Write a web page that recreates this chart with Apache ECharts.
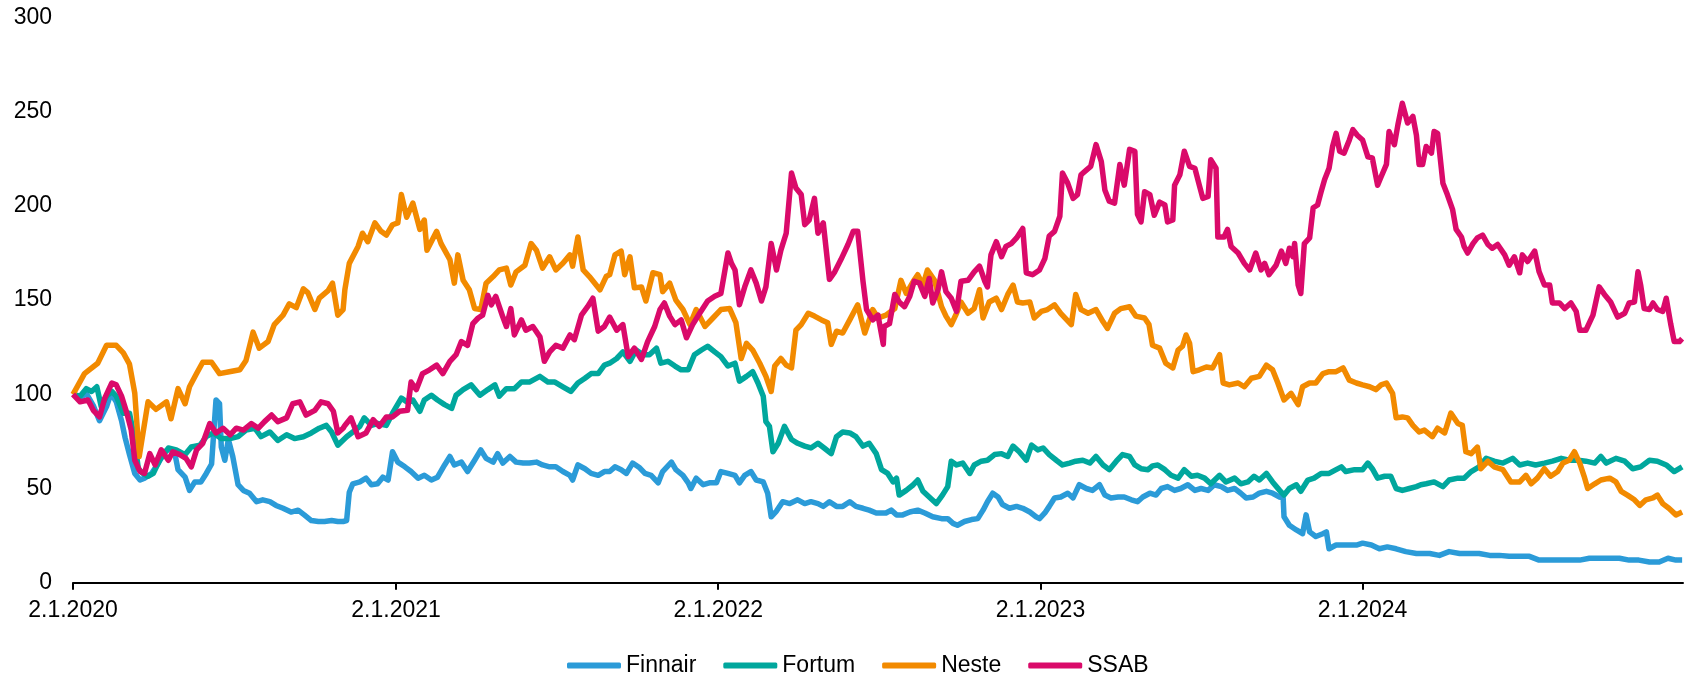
<!DOCTYPE html>
<html>
<head>
<meta charset="utf-8">
<script src="https://cdn.jsdelivr.net/npm/echarts@6.0.0/dist/echarts.min.js"></script>
<style>
  body { margin: 0; background: #fff; }
  #main { width: 1687px; height: 675px; }
</style>
</head>
<body>
<div id="main"></div>
<script>
// x = trading day offset in calendar days from 2.1.2020, y = index (2.1.2020 = 100)
var tickDays = [0, 366, 731, 1096, 1461];
var tickLabels = ['2.1.2020', '2.1.2021', '2.1.2022', '2.1.2023', '2.1.2024'];
var names = ['Finnair', 'Fortum', 'Neste', 'SSAB'];
var colors = ['#2B9BD8', '#00A79D', '#F28A00', '#DA0A6A'];

var finnair = [
  [0,100],[8,98],[15,100.5],[23,94],[30,86],[38,93.5],[43,100.5],[49,96],[55,86],[59,77],[64,68],[70,58],[76,54.5],[81,55.5],
  [89,58],[96,63],[104,69.5],[110,71],[115,69.5],[119,60],[127,56],[132,49],[138,53.5],[145,53.5],[151,58],[157,63],[162,97],
  [166,95],[168,72],[172,65],[176,76],[181,67],[187,52],[193,49],[200,47.5],[208,43],[215,44],[223,43],[230,41],[238,39.5],
  [247,37.5],[255,38.5],[262,36],[270,33],[278,32.5],[285,32.5],[293,33],[300,32.5],[306,32.5],[310,33],[313,48],[317,52.5],
  [325,53.5],[332,55.5],[338,52],[345,52.5],[351,56],[357,54.5],[362,69.5],[368,64],[376,61.5],[383,59],[391,55.5],[398,57],
  [406,54.5],[413,56],[421,62.5],[427,67],[432,62.5],[440,64],[447,59],[455,65],[462,70.5],[468,66],[476,64],[481,68.5],
  [487,63.5],[495,67],[502,64],[510,63.5],[517,63.5],[525,64],[532,62.5],[540,61.5],[547,61.5],[555,59],[563,57],[566,54.5],
  [572,62.5],[580,60.5],[587,58],[595,57],[602,59],[608,59],[614,61.5],[621,60],[627,58],[634,63.5],[642,61],[648,58],[655,57],
  [663,53],[668,59],[678,64],[683,60],[691,57],[697,53],[700,50],[706,55.5],[714,52],[721,53],[729,53],[734,59],[742,58],
  [750,57],[755,53],[761,57],[768,59],[774,54.5],[782,53.5],[787,47.5],[791,35],[797,38],[804,43],[812,42],[821,44],[829,42],
  [836,43],[844,42],[850,40.5],[857,43],[865,40.5],[872,40.5],[880,43],[887,40.5],[895,39.5],[902,38.5],[910,37],[917,37],
  [921,37],[927,38.5],[933,36],[940,36],[948,37.5],[957,38.5],[965,37],[974,35],[984,34],[991,34],[997,31.5],[1002,30.5],
  [1010,32.5],[1018,33.5],[1025,34],[1031,38.5],[1036,43],[1042,47.5],[1048,45.5],[1053,41.5],[1061,39.5],[1069,40.5],
  [1076,39.5],[1084,37.5],[1091,35],[1095,34],[1101,37],[1106,40.5],[1112,45],[1119,45.5],[1127,47.5],[1133,45],[1140,52],
  [1148,50],[1155,49],[1163,52],[1169,46.5],[1176,45],[1184,45.5],[1191,45.5],[1199,44],[1206,43],[1212,45.5],[1220,47.5],
  [1227,46.5],[1233,50],[1240,51],[1248,49],[1255,50],[1263,52],[1271,49],[1278,50],[1286,49],[1293,52],[1301,51],[1308,49],
  [1316,50],[1323,47.5],[1329,45],[1337,45.5],[1344,47.5],[1352,48.5],[1359,47.5],[1367,45.5],[1371,45],[1372,35],[1378,30.5],
  [1386,28],[1393,26],[1397,36],[1401,27],[1408,24.5],[1416,26],[1420,27],[1423,18],[1431,20],[1442,20],[1454,20],[1461,21],
  [1471,20],[1480,18],[1489,19],[1499,18],[1510,16.5],[1522,15.5],[1537,15.5],[1548,14.5],[1559,16.5],[1571,15.5],[1582,15.5],
  [1593,15.5],[1605,14.5],[1616,14.5],[1627,14],[1639,14],[1650,14],[1661,12],[1673,12],[1684,12],[1695,12],[1707,12],
  [1718,13],[1729,13],[1741,13],[1752,13],[1763,12],[1774,12],[1786,11],[1797,11],[1807,13],[1816,12],[1823,12]
];

var fortum = [
  [0,100],[8,99],[15,103],[21,101.5],[27,104],[32,93.5],[38,99],[44,101.5],[49,99],[57,90],[64,90],[70,75.5],[74,60.5],[79,58],
  [85,56.5],[91,58],[98,65],[108,71.5],[117,70.5],[127,68],[134,72],[144,73],[151,77.5],[159,79.5],[168,76.5],[178,76.5],
  [187,77.5],[196,81],[206,82],[213,77.5],[223,80],[232,75.5],[242,78.5],[251,76.5],[261,77.5],[270,79.5],[279,82],[287,83.5],
  [293,80],[300,73],[310,77.5],[317,80],[325,83],[330,87.5],[338,83.5],[345,84.5],[355,83.5],[362,90],[372,98],[378,96],
  [385,97],[393,91],[398,97],[406,99.5],[413,97],[421,94.5],[429,92.5],[434,99.5],[442,102.5],[451,105],[461,99.5],[470,102.5],
  [478,105],[483,99],[491,103],[500,103],[508,106.5],[517,106.5],[529,109.5],[538,106.5],[546,106.5],[555,104],[564,101.5],
  [572,106],[580,108.5],[587,111],[595,111],[602,115.5],[608,116.5],[616,119],[623,122.5],[631,117.5],[638,123.5],[646,121],
  [653,121],[661,124.5],[666,116.5],[674,117.5],[682,115],[689,113],[697,113],[704,121],[712,123.5],[719,125.5],[727,122.5],
  [734,120],[742,115],[750,116.5],[755,107],[763,109.5],[770,112],[776,106],[782,99],[785,85.5],[789,83],[793,69.5],[799,74],
  [806,83],[814,76],[821,74],[829,72.5],[836,71.5],[844,74],[851,71.5],[859,68.5],[865,77.5],[872,80],[880,79.5],[887,77.5],
  [895,72.5],[902,74],[910,68.5],[916,60],[923,58],[929,53.5],[933,55.5],[936,46.5],[944,49],[952,52],[957,54.5],[963,48.5],
  [970,45.5],[978,42],[985,46.5],[991,51],[995,64.5],[1001,62.5],[1008,63.5],[1016,58],[1021,62.5],[1029,64.5],[1036,65],
  [1044,68],[1052,68.5],[1059,67],[1065,72.5],[1072,69.5],[1080,65],[1086,73],[1093,70.5],[1099,71.5],[1106,68],[1114,65],
  [1121,62.5],[1129,63.5],[1136,64.5],[1144,65],[1152,63.5],[1159,67],[1167,62.5],[1174,60],[1182,64.5],[1189,68],[1197,67],
  [1203,62.5],[1210,60.5],[1218,60],[1223,62],[1229,62.5],[1237,60],[1244,57],[1252,55.5],[1259,60],[1267,56.5],[1274,57],
  [1282,55.5],[1289,52.5],[1299,57],[1306,53.5],[1316,55.5],[1323,52.5],[1331,53.5],[1338,56.5],[1344,54.5],[1352,58],
  [1359,53.5],[1367,49],[1372,46.5],[1378,50],[1386,52],[1391,48.5],[1399,54.5],[1406,55.5],[1414,58],[1423,58],[1431,60],
  [1437,61.5],[1442,59],[1452,60],[1461,60],[1467,63.5],[1472,60.5],[1478,55.5],[1486,56.5],[1493,56.5],[1499,50],[1506,49],
  [1514,50],[1522,51],[1527,52],[1533,52.5],[1542,53.5],[1552,51],[1559,54.5],[1569,55.5],[1576,55.5],[1584,59],[1593,61.5],
  [1601,66],[1610,64.5],[1620,63.5],[1631,66],[1639,62.5],[1648,63.5],[1657,62.5],[1667,63.5],[1676,64.5],[1686,66],[1695,65],
  [1705,65],[1714,64.5],[1724,63.5],[1731,67],[1737,63.5],[1748,66],[1758,64.5],[1767,60.5],[1776,61.5],[1786,65],[1795,64.5],
  [1805,62.5],[1814,59],[1823,61.5]
];

var neste = [
  [0,100],[13,111],[28,116.5],[38,126],[49,126],[57,122],[64,116],[70,100.5],[75,67],[85,96],[94,92],[106,96],[111,87],[119,103],
  [127,95],[132,104],[140,111],[147,117],[157,117],[166,111],[177,112],[189,113],[196,118],[204,133],[211,124.5],[221,128],
  [228,137],[238,142],[245,148],[253,146],[261,156],[266,154],[274,145],[279,151],[289,155],[294,159],[300,142],[306,145],
  [308,155.5],[313,169.5],[323,178.5],[328,185.5],[334,181],[342,191],[349,186.5],[355,184.5],[362,190],[368,191],[372,206],
  [378,194],[385,201.5],[393,187.5],[398,192.5],[401,176.5],[412,186.5],[417,180],[427,171.5],[432,159],[436,174],[442,160.5],
  [449,155.5],[455,145.5],[462,145],[468,159],[476,162.5],[483,166],[491,167],[496,158],[502,165],[512,168.5],[519,180],
  [525,176.5],[532,167],[540,173],[547,166],[555,169.5],[563,174],[566,168],[572,183.5],[578,166],[585,162.5],[597,155.5],
  [604,162.5],[608,163.5],[614,174],[621,176],[625,163.5],[631,173],[636,156.5],[644,157],[649,149.5],[657,164.5],[665,163.5],
  [668,154.5],[676,159],[683,150],[691,145],[699,137],[706,145],[716,136],[725,140.5],[734,145],[744,145.5],[751,138],[757,119],
  [763,127],[770,123.5],[778,116.5],[785,109.5],[791,101.5],[795,115],[802,119],[808,115.5],[814,114],[819,134],[825,137],
  [833,143],[840,141.5],[848,139.5],[855,138],[859,126.5],[865,133.5],[872,132.5],[880,139.5],[889,147.5],[897,132.5],[906,145],
  [912,140.5],[918,141.5],[921,142],[931,145.5],[938,160.5],[944,153.5],[952,160],[957,163.5],[963,158],[968,166],[976,160.5],
  [984,146.5],[989,141.5],[995,137],[1001,143],[1006,149],[1014,143],[1021,145.5],[1027,155.5],[1031,140.5],[1038,149],
  [1046,151],[1052,145],[1059,153],[1065,158],[1070,149],[1076,148.5],[1084,149],[1089,140.5],[1097,144],[1104,145],
  [1112,147.5],[1119,143],[1131,137],[1136,153],[1142,145],[1150,143],[1159,145],[1167,138.5],[1172,135],[1180,143],
  [1187,145.5],[1197,146.5],[1204,141.5],[1214,140.5],[1219,137],[1223,126],[1231,124.5],[1238,116.5],[1246,114],[1252,123.5],
  [1257,125.5],[1261,131.5],[1265,127],[1269,112],[1276,113],[1284,114.5],[1291,114],[1299,121],[1303,106],[1310,105],
  [1320,106],[1327,104],[1335,108.5],[1344,109.5],[1352,115.5],[1359,113],[1365,106],[1372,97],[1380,100.5],[1388,94.5],
  [1393,104],[1401,106],[1408,106],[1416,111],[1423,112],[1431,112],[1439,114],[1446,107.5],[1454,106],[1461,105],[1469,104],
  [1476,102.5],[1482,105],[1488,106],[1495,100.5],[1499,87.5],[1506,88],[1512,87.5],[1518,83.5],[1525,80],[1531,81],
  [1540,77.5],[1546,82],[1554,79.5],[1561,90],[1569,84.5],[1574,83.5],[1578,69.5],[1584,68.5],[1591,72],[1595,60.5],
  [1603,64.5],[1610,61.5],[1620,60],[1629,53.5],[1639,53.5],[1646,57],[1652,52.5],[1659,55.5],[1667,60.5],[1674,56.5],
  [1682,59],[1688,63.5],[1695,65],[1701,69.5],[1707,63.5],[1712,56.5],[1716,50],[1724,52.5],[1731,54.5],[1741,55.5],
  [1748,53.5],[1754,48.5],[1761,46.5],[1769,44],[1775,41],[1782,44],[1790,45],[1795,46.5],[1801,42],[1808,39.5],[1816,36],
  [1823,37.5]
];

var ssab = [
  [0,100],[8,96],[17,97],[23,91.5],[30,88],[36,98],[44,106],[49,105],[55,99],[61,90],[66,81],[70,65],[76,59],[81,58],[87,68.5],
  [93,62.5],[100,70.5],[108,65],[113,69.5],[121,68],[128,66],[134,61.5],[140,70.5],[147,74],[155,84.5],[162,79.5],[170,82],
  [178,78.5],[185,82],[193,81],[202,84.5],[210,82],[217,85.5],[225,89],[232,85.5],[242,87.5],[249,95],[257,96],[264,89],
  [274,91.5],[281,96],[289,95],[295,91],[300,79.5],[306,82],[308,83.5],[315,87.5],[323,77.5],[332,79.5],[340,86.5],[347,83],
  [355,88],[362,88],[370,91],[379,91.5],[383,106.5],[389,102.5],[396,111],[404,113],[412,115.5],[419,111],[427,117.5],[434,121],
  [440,128],[447,126],[453,137.5],[459,140.5],[464,142],[470,152.5],[474,147.5],[479,152],[487,141],[491,136],[496,145.5],
  [500,131.5],[508,139.5],[513,134],[521,136],[529,130.5],[534,117.5],[540,122.5],[547,126],[555,124.5],[563,131.5],[568,129],
  [576,142],[583,146.5],[589,151],[595,133.5],[602,136],[608,141],[616,134],[623,137],[629,120],[636,124.5],[644,118.5],
  [651,128],[659,136],[665,145],[670,148.5],[676,141.5],[682,137],[689,139.5],[695,130],[702,137],[710,143],[719,149.5],
  [727,152],[734,153.5],[742,175],[746,169.5],[750,166],[755,147.5],[761,157],[768,166],[774,159],[780,149.5],[785,157],
  [791,180],[797,166],[802,176.5],[808,185.5],[814,217.5],[819,209.5],[825,206],[829,190],[834,192.5],[840,204],[844,185.5],
  [850,191],[857,161],[863,165],[870,171.5],[878,179.5],[884,186.5],[889,186.5],[895,160],[899,145],[906,139.5],[912,142],
  [918,126.5],[919,136],[925,137.5],[931,153],[936,149],[942,146.5],[948,152],[953,160],[959,159],[965,152],[970,161.5],
  [974,148.5],[980,155.5],[984,165],[989,154.5],[995,151],[1001,144],[1006,160],[1014,160.5],[1021,165],[1027,168],[1033,160],
  [1036,157],[1040,174],[1046,181],[1052,173],[1057,178.5],[1063,180],[1069,183],[1076,188],[1080,164.5],[1087,163.5],
  [1095,166],[1101,172],[1106,184],[1112,186.5],[1118,194.5],[1121,217.5],[1127,212],[1133,204],[1138,206],[1142,216.5],
  [1148,219],[1153,221],[1159,232.5],[1165,223.5],[1169,208.5],[1174,202.5],[1180,201.5],[1186,222],[1191,211],[1197,230],
  [1203,229],[1206,195.5],[1210,191.5],[1214,207.5],[1220,206],[1225,195],[1231,202],[1237,200.5],[1240,191.5],[1246,192.5],
  [1248,211],[1254,216.5],[1259,229],[1265,221],[1271,220],[1276,211],[1280,204],[1286,205],[1289,224.5],[1295,220],
  [1297,183.5],[1304,183.5],[1308,187.5],[1312,178.5],[1320,175],[1327,169.5],[1333,166],[1340,175],[1346,166],[1350,169.5],
  [1355,163.5],[1363,168.5],[1369,176],[1374,169.5],[1378,177.5],[1382,173],[1384,180],[1388,158],[1391,153.5],[1395,180],
  [1401,183],[1405,199],[1410,200.5],[1414,207.5],[1418,214],[1423,220],[1427,231.5],[1431,238.5],[1435,229],[1440,228],
  [1446,235],[1450,240.5],[1455,237.5],[1461,235],[1467,226],[1472,225.5],[1478,211],[1482,215.5],[1488,222],[1491,239.5],
  [1497,232.5],[1501,243],[1506,254.5],[1512,244],[1518,247.5],[1522,237.5],[1525,222],[1529,222],[1533,231.5],[1539,228],
  [1542,239.5],[1546,238.5],[1552,212],[1557,206],[1563,198],[1567,187.5],[1573,183.5],[1576,178.5],[1580,175],[1586,180],
  [1591,183],[1597,184.5],[1603,179.5],[1608,177.5],[1614,179.5],[1622,174],[1627,168.5],[1633,173],[1639,164.5],[1642,174],
  [1648,170.5],[1656,176],[1661,165],[1667,158],[1673,158],[1676,148.5],[1684,148.5],[1690,145.5],[1697,148.5],[1703,144],
  [1707,134],[1714,134],[1722,142],[1729,157],[1735,153],[1742,149],[1750,141],[1758,143],[1763,148.5],[1769,149],[1773,165],
  [1776,158],[1780,145.5],[1786,145],[1790,148.5],[1795,145],[1801,144],[1805,151],[1810,137.5],[1814,128],[1820,128],
  [1823,129.5]
];

var allData = [finnair, fortum, neste, ssab];
var font = 'Liberation Sans, Arial, sans-serif';

var myChart = echarts.init(document.getElementById('main'));

var series = names.map(function (n, i) {
    return {
        name: n,
        type: 'line',
        data: allData[i],
        showSymbol: false,
        symbol: 'none',
        color: colors[i],
        lineStyle: { width: 5.5, color: colors[i], join: 'round' },
        emphasis: { disabled: true }
    };
});

myChart.setOption({
    animation: false,
    grid: { left: 73, right: 4, top: 17.5, bottom: 92.3 },
    legend: {
        data: names,
        left: 562,
        top: 649,
        icon: 'roundRect',
        itemWidth: 54,
        itemHeight: 6,
        itemGap: 27,
        textStyle: { fontSize: 23, color: '#000', fontFamily: font }
    },
    xAxis: {
        type: 'value',
        min: 0,
        max: 1824,
        splitLine: { show: false },
        axisLine: { lineStyle: { color: '#000', width: 2 } },
        axisTick: {
            show: true,
            length: 7,
            lineStyle: { color: '#000', width: 2 },
            customValues: tickDays
        },
        axisLabel: {
            customValues: tickDays,
            margin: 16,
            fontSize: 23,
            color: '#000',
            fontFamily: font,
            formatter: function (v) {
                var i = tickDays.indexOf(v);
                return i >= 0 ? tickLabels[i] : '';
            }
        }
    },
    yAxis: {
        type: 'value',
        min: 0,
        max: 300,
        interval: 50,
        splitLine: { show: false },
        axisLine: { show: false },
        axisTick: { show: false },
        axisLabel: { margin: 21, fontSize: 23, color: '#000', fontFamily: font, padding: [3, 0, 0, 0] }
    },
    series: series
});
</script>
</body>
</html>
